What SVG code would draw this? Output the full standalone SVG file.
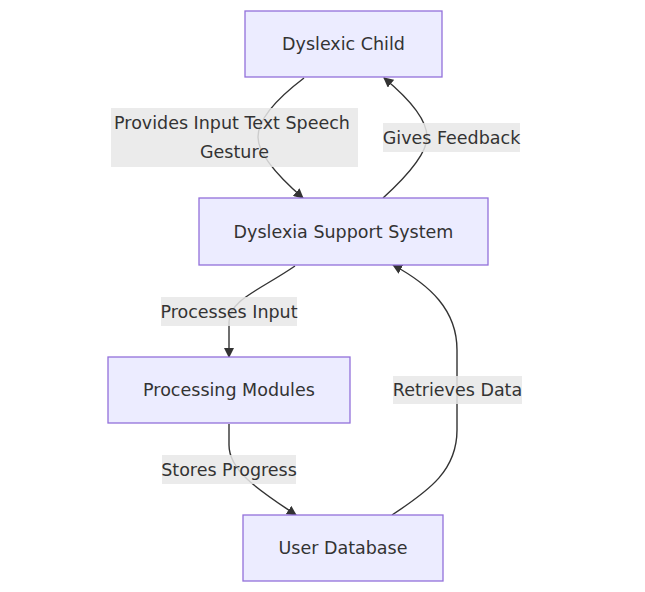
<svg xmlns="http://www.w3.org/2000/svg" width="645" height="592" viewBox="0 0 645 592">
<style>
.node rect{fill:#ECECFF;stroke:#9370DB;stroke-width:1.3}
text{font-family:"DejaVu Sans","Liberation Sans",sans-serif;font-size:17.5px;fill:#333;text-anchor:middle;dominant-baseline:central}
.edge{fill:none;stroke:#333;stroke-width:1.4}
.lbl rect{fill:#e8e8e8;fill-opacity:0.85}
</style>
<defs>
<marker id="arrow" viewBox="0 0 10 10" refX="9" refY="5" markerWidth="10" markerHeight="10" markerUnits="userSpaceOnUse" orient="auto">
<path d="M0,0 L10,5 L0,10 z" fill="#333"/>
</marker>
</defs>
<rect width="645" height="592" fill="#fff"/>
<g id="connectors">
<path class="edge" marker-end="url(#arrow)" d="M304,78 C275,100 258,120 258,137 C258,155 280,178 303,198"/>
<path class="edge" marker-end="url(#arrow)" d="M383,198 C405,178 427,155 427,137 C427,118 407,97 384,78"/>
<path class="edge" marker-end="url(#arrow)" d="M295,266 C260,290 229,300 229,322 L229,357"/>
<path class="edge" marker-end="url(#arrow)" d="M229,424 L229,445 C229,472 262,492 296,515"/>
<path class="edge" marker-end="url(#arrow)" d="M392,515 C430,490 457,470 457,430 L457,350 C457,310 430,285 393,265"/>
</g>
<g id="label-provides" class="lbl">
<rect x="111" y="108" width="247" height="59"/>
<text x="232" y="123">Provides Input Text Speech</text>
<text x="234.5" y="152">Gesture</text>
</g>
<g id="label-feedback" class="lbl">
<rect x="383" y="123" width="137" height="29"/>
<text x="451.5" y="137.5">Gives Feedback</text>
</g>
<g id="label-processes" class="lbl">
<rect x="161" y="297" width="136" height="29"/>
<text x="229" y="311.5">Processes Input</text>
</g>
<g id="label-retrieves" class="lbl">
<rect x="393" y="376" width="129" height="28"/>
<text x="457.5" y="390">Retrieves Data</text>
</g>
<g id="label-stores" class="lbl">
<rect x="162" y="455" width="134" height="29"/>
<text x="229" y="469.5">Stores Progress</text>
</g>
<g id="node-child" class="node">
<rect x="245" y="11" width="197" height="66"/>
<text x="343.5" y="44">Dyslexic Child</text>
</g>
<g id="node-system" class="node">
<rect x="199" y="198" width="289" height="67"/>
<text x="343.5" y="231.5">Dyslexia Support System</text>
</g>
<g id="node-processing" class="node">
<rect x="108" y="357" width="242" height="66"/>
<text x="229" y="390">Processing Modules</text>
</g>
<g id="node-userdb" class="node">
<rect x="243" y="515" width="200" height="66"/>
<text x="343" y="548">User Database</text>
</g>
</svg>
